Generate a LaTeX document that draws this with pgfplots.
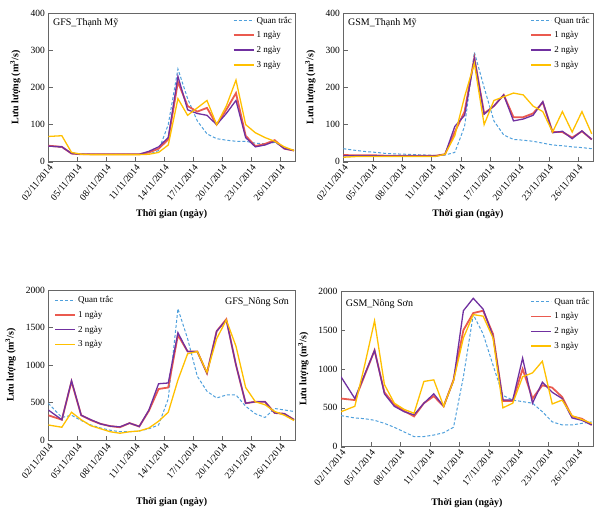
\documentclass[border=0pt]{standalone}
\usepackage{fontspec}
\setmainfont{Liberation Serif}
\usepackage{pgfplots}
\usepackage{pgfplotstable}
\pgfplotsset{compat=1.18}

\definecolor{obs}{RGB}{79,160,220}
\definecolor{dA}{RGB}{232,72,60}
\definecolor{dB}{RGB}{112,48,160}
\definecolor{dC}{RGB}{255,192,0}

\pgfplotstableread{
x obs d1 d2 d3
2.0 43 43 42 68
3.4 38 40 40 70
4.4 24 22 22 25
5.4 21 20 20 20
6.4 20 20 20 19
7.4 20 20 20 19
8.4 20 20 20 19
9.4 20 20 20 19
10.4 20 20 20 19
11.4 20 20 20 19
12.4 20 25 28 20
13.4 30 35 40 25
14.4 100 60 65 45
15.4 250 215 230 170
16.4 170 150 140 125
17.4 110 135 130 145
18.4 75 145 125 165
19.4 62 100 100 100
20.4 58 140 130 150
21.4 55 185 165 220
22.4 55 70 65 100
23.4 50 42 40 78
24.4 48 48 45 65
25.4 52 58 55 55
26.4 38 35 35 40
27.4 30 30 30 30
}\tTL

\pgfplotstableread{
x obs d1 d2 d3
2.0 35 18 16 12
3.4 30 17 16 14
4.4 27 17 16 14
5.4 25 17 16 14
6.4 22 16 15 14
7.4 21 16 15 14
8.4 20 16 15 14
9.4 19 16 15 14
10.4 18 16 15 14
11.4 17 16 15 14
12.4 18 20 20 20
13.4 25 80 95 70
14.4 95 135 125 175
15.4 295 280 278 265
16.4 200 130 128 100
17.4 110 150 150 165
18.4 72 180 180 175
19.4 60 120 110 185
20.4 58 120 115 180
21.4 55 130 125 150
22.4 50 160 162 135
23.4 45 80 78 80
24.4 43 80 82 135
25.4 40 65 62 80
26.4 38 82 83 135
27.4 35 60 60 75
}\tTR

\pgfplotstableread{
x obs d1 d2 d3
2.0 490 330 400 200
3.4 300 270 270 170
4.4 330 780 790 370
5.4 260 330 330 270
6.4 200 265 270 190
7.4 160 215 215 150
8.4 130 185 185 110
9.4 110 170 175 90
10.4 110 225 225 110
11.4 120 180 180 120
12.4 150 390 400 160
13.4 200 680 750 250
14.4 550 700 760 370
15.4 1750 1400 1430 800
16.4 1350 1180 1180 1150
17.4 850 1180 1180 1180
18.4 650 890 890 900
19.4 560 1450 1450 1350
20.4 600 1610 1600 1600
21.4 600 1000 1000 1250
22.4 450 490 490 700
23.4 350 510 510 510
24.4 300 510 510 470
25.4 420 360 360 380
26.4 400 350 350 330
27.4 380 270 270 260
}\tBL

\pgfplotstableread{
x obs d1 d2 d3
2.0 400 620 900 450
3.4 370 600 620 520
4.4 360 920 930 1050
5.4 340 1240 1240 1620
6.4 300 700 680 800
7.4 250 540 520 560
8.4 190 460 450 480
9.4 130 390 410 430
10.4 130 560 560 840
11.4 150 650 680 860
12.4 180 520 520 520
13.4 250 860 850 850
14.4 900 1500 1750 1400
15.4 1700 1720 1910 1700
16.4 1450 1750 1770 1680
17.4 1050 1450 1420 1400
18.4 660 590 600 500
19.4 600 590 600 560
20.4 580 1000 1140 900
21.4 560 620 560 950
22.4 450 790 830 1100
23.4 320 760 700 550
24.4 280 640 620 600
25.4 280 390 370 400
26.4 300 360 340 350
27.4 320 280 280 300
}\tBR

\tikzset{ttl/.style={font=\fontsize{10}{11}\selectfont}}
\pgfplotsset{
  panel/.style={
    scale only axis, anchor=south west,
    xmin=2, xmax=27.5,
    xtick={2,5,8,11,14,17,20,23,26},
    xticklabels={02/11/2014,05/11/2014,08/11/2014,11/11/2014,14/11/2014,17/11/2014,20/11/2014,23/11/2014,26/11/2014},
    xticklabel style={rotate=50, anchor=north east, font=\fontsize{9.5}{10}\selectfont, inner sep=1.5pt},
    yticklabel style={font=\fontsize{9.5}{10}\selectfont},
    /pgf/number format/assume math mode=true,
    /pgf/number format/set thousands separator={},
    axis line style={black!60},
    tick style={black!60},
    tick align=inside,
    xtick pos=bottom, ytick pos=left,
    xlabel={Thời gian (ngày)},
    ylabel={Lưu lượng (m\textsuperscript{3}/s)},
    label style={font=\fontsize{10}{11}\selectfont\bfseries},
    ylabel style={yshift=3pt},
    legend style={draw=none, fill=none, font=\fontsize{9}{10.5}\selectfont, row sep=3pt, inner sep=1pt},
    legend cell align=left,
    legend image code/.code={\draw[##1] (0pt,0pt) -- (20pt,0pt);},
  },
  sObs/.style={color=obs, line width=1pt, dash pattern=on 3pt off 2pt},
  sA/.style={color=dA, line width=1.8pt, opacity=0.9},
  sB/.style={color=dB, line width=1.3pt},
  sC/.style={color=dC, line width=1.3pt},
}

\begin{document}
\begin{tikzpicture}
\path[use as bounding box] (0pt,0pt) rectangle (595pt,510pt);

% Top left
\begin{axis}[panel, at={(48.3pt,348.3pt)}, width=246.7pt, height=148.4pt,
  ymin=0, ymax=400, ytick={0,100,200,300,400},
  xlabel style={yshift=-3pt},
  legend style={at={(1,1)}, anchor=north east}]
\addplot[sObs] table[x=x,y=obs]{\tTL}; \addlegendentry{Quan trắc}
\addplot[sA] table[x=x,y=d1]{\tTL}; \addlegendentry{1 ngày}
\addplot[sB] table[x=x,y=d2]{\tTL}; \addlegendentry{2 ngày}
\addplot[sC] table[x=x,y=d3]{\tTL}; \addlegendentry{3 ngày}
\node[anchor=north west, ttl] at (rel axis cs:0.005,0.99) {GFS\_Thạnh Mỹ};
\end{axis}

% Top right
\begin{axis}[panel, at={(343.3pt,348.3pt)}, width=249.4pt, height=148.4pt,
  ymin=0, ymax=400, ytick={0,100,200,300,400},
  xlabel style={yshift=-3pt},
  legend style={at={(1,1)}, anchor=north east}]
\addplot[sObs] table[x=x,y=obs]{\tTR}; \addlegendentry{Quan trắc}
\addplot[sA] table[x=x,y=d1]{\tTR}; \addlegendentry{1 ngày}
\addplot[sB] table[x=x,y=d2]{\tTR}; \addlegendentry{2 ngày}
\addplot[sC] table[x=x,y=d3]{\tTR}; \addlegendentry{3 ngày}
\node[anchor=north west, ttl] at (rel axis cs:0.005,0.99) {GSM\_Thạnh Mỹ};
\end{axis}

% Bottom left
\begin{axis}[panel, at={(48.3pt,70pt)}, width=246.7pt, height=150pt,
  ymin=0, ymax=2000, ytick={0,500,1000,1500,2000},
  xlabel style={yshift=-13pt},
  legend style={at={(0.02,0.98)}, anchor=north west}]
\addplot[sObs] table[x=x,y=obs]{\tBL}; \addlegendentry{Quan trắc}
\addplot[sA] table[x=x,y=d1]{\tBL}; \addlegendentry{1 ngày}
\addplot[sB] table[x=x,y=d2]{\tBL}; \addlegendentry{2 ngày}
\addplot[sC] table[x=x,y=d3]{\tBL}; \addlegendentry{3 ngày}
\node[anchor=north east, ttl] at (rel axis cs:0.99,0.97) {GFS\_Nông Sơn};
\end{axis}

% Bottom right
\begin{axis}[panel, at={(341pt,63.3pt)}, width=251.7pt, height=155.4pt,
  ymin=0, ymax=2000, ytick={0,500,1000,1500,2000},
  xlabel style={yshift=-7pt},
  legend style={at={(1,0.98)}, anchor=north east}]
\addplot[sObs] table[x=x,y=obs]{\tBR}; \addlegendentry{Quan trắc}
\addplot[sA] table[x=x,y=d1]{\tBR}; \addlegendentry{1 ngày}
\addplot[sB] table[x=x,y=d2]{\tBR}; \addlegendentry{2 ngày}
\addplot[sC] table[x=x,y=d3]{\tBR}; \addlegendentry{3 ngày}
\node[anchor=north west, ttl] at (rel axis cs:0.005,0.97) {GSM\_Nông Sơn};
\end{axis}
\end{tikzpicture}
\end{document}
